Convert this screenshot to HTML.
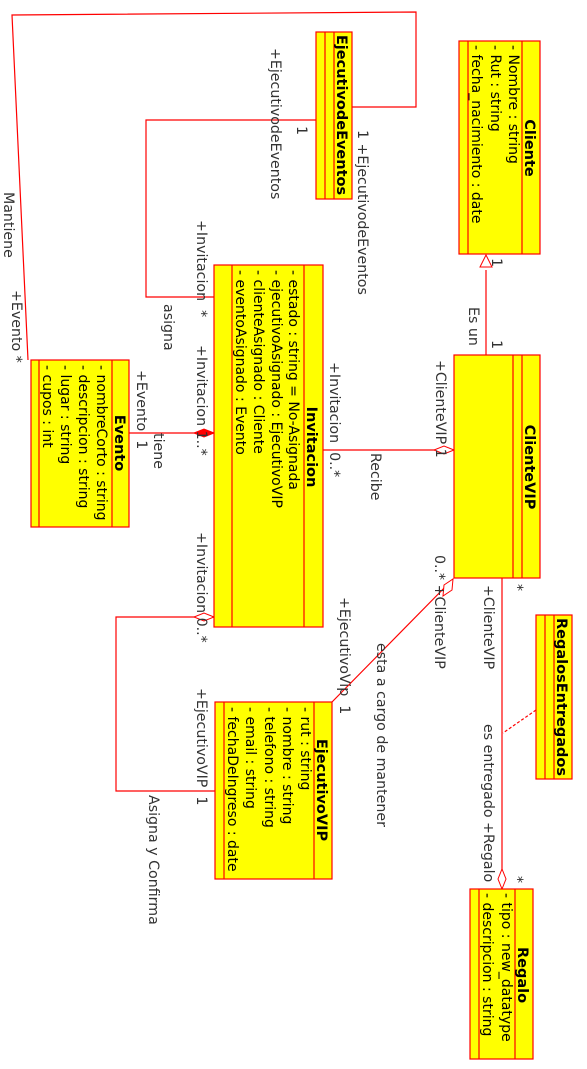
<!DOCTYPE html>
<html><head><meta charset="utf-8"><style>
html,body{margin:0;padding:0;background:#fff;}
svg{display:block;}
text{font-family:"DejaVu Sans","Liberation Sans",sans-serif;font-size:14.2px;fill:#333;}
.b{font-weight:bold;fill:#000;font-size:14.5px;}
.a{fill:#000;font-size:14px;}
</style></head><body>
<svg width="587" height="1069" viewBox="0 0 587 1069" xmlns="http://www.w3.org/2000/svg">
<g fill="none" stroke="#f00" stroke-width="1.2">
<polyline points="352,107 416,107 416,12 12,15 28,360"/>
<polyline points="316,120 146,120 146,297 214,297"/>
<line x1="129" y1="433" x2="214" y2="433"/>
<line x1="323" y1="450" x2="454" y2="450"/>
<line x1="486" y1="270" x2="486" y2="355"/>
<line x1="453" y1="579" x2="332" y2="702"/>
<polyline points="214,617 116,617 116,791 215,791"/>
<line x1="502" y1="578" x2="502" y2="889"/>
<line x1="536" y1="710" x2="503" y2="733" stroke-dasharray="3,2"/>
</g>
<polygon points="486,255 480,267 492,267" fill="#fff" stroke="#f00"/>
<polygon points="214,433 204,429 194,433 204,437" fill="#f00" stroke="#f00"/>
<polygon points="454,450 444,446 434,450 444,454" fill="#fff" stroke="#f00"/>
<polygon points="214,617 204,613 194,617 204,621" fill="#fff" stroke="#f00"/>
<polygon points="453,579 452,590 443,596 444,585" fill="#fff" stroke="#f00"/>
<polygon points="502,889 498,879 502,869 506,879" fill="#fff" stroke="#f00"/>
<g fill="#ffff00" stroke="#f00" stroke-width="1.2">
<rect x="316" y="32" width="36" height="167"/><line x1="325" y1="32" x2="325" y2="199"/><line x1="334" y1="32" x2="334" y2="199"/>
<rect x="459" y="41" width="81" height="213"/><line x1="468" y1="41" x2="468" y2="254"/><line x1="522" y1="41" x2="522" y2="254"/>
<rect x="214" y="265" width="109" height="362"/><line x1="232" y1="265" x2="232" y2="627"/><line x1="304" y1="265" x2="304" y2="627"/>
<rect x="454" y="355" width="86" height="223"/><line x1="513" y1="355" x2="513" y2="578"/><line x1="522" y1="355" x2="522" y2="578"/>
<rect x="31" y="360" width="98" height="167"/><line x1="39" y1="360" x2="39" y2="527"/><line x1="112" y1="360" x2="112" y2="527"/>
<rect x="215" y="702" width="117" height="177"/><line x1="224" y1="702" x2="224" y2="879"/><line x1="314" y1="702" x2="314" y2="879"/>
<rect x="536" y="615" width="36" height="164"/><line x1="545" y1="615" x2="545" y2="779"/><line x1="554" y1="615" x2="554" y2="779"/>
<rect x="470" y="889" width="63" height="170"/><line x1="479" y1="889" x2="479" y2="1059"/><line x1="515" y1="889" x2="515" y2="1059"/>
</g>
<text class="b" text-anchor="middle" transform="translate(337,115) rotate(90)">EjecutivodeEventos</text>
<text class="b" text-anchor="middle" transform="translate(525,148) rotate(90)">Cliente</text>
<text class="b" text-anchor="middle" transform="translate(307,447) rotate(90)">Invitacion</text>
<text class="b" text-anchor="middle" transform="translate(525,467) rotate(90)">ClienteVIP</text>
<text class="b" text-anchor="middle" transform="translate(115,443) rotate(90)">Evento</text>
<text class="b" text-anchor="middle" transform="translate(317,790) rotate(90)">EjecutivoVIP</text>
<text class="b" text-anchor="middle" transform="translate(557,697) rotate(90)">RegalosEntregados</text>
<text class="b" text-anchor="middle" transform="translate(518,975) rotate(90)">Regalo</text>
<text class="a" transform="translate(509,45) rotate(90)">- Nombre : string</text>
<text class="a" transform="translate(491,45) rotate(90)">- Rut : string</text>
<text class="a" transform="translate(472,45) rotate(90)">- fecha_nacimiento : date</text>
<text class="a" transform="translate(289,270) rotate(90)">- estado : string = No-Asignada</text>
<text class="a" transform="translate(272,270) rotate(90)">- ejecutivoAsignado : EjecutivoVIP</text>
<text class="a" transform="translate(254,270) rotate(90)">- clienteAsignado : Cliente</text>
<text class="a" transform="translate(236,270) rotate(90)">- eventoAsignado : Evento</text>
<text class="a" transform="translate(97,365) rotate(90)">- nombreCorto : string</text>
<text class="a" transform="translate(79,365) rotate(90)">- descripcion : string</text>
<text class="a" transform="translate(61,365) rotate(90)">- lugar : string</text>
<text class="a" transform="translate(43,365) rotate(90)">- cupos : int</text>
<text class="a" transform="translate(301,707) rotate(90)">- rut : string</text>
<text class="a" transform="translate(283,707) rotate(90)">- nombre : string</text>
<text class="a" transform="translate(265,707) rotate(90)">- telefono : string</text>
<text class="a" transform="translate(246,707) rotate(90)">- email : string</text>
<text class="a" transform="translate(228,707) rotate(90)">- fechaDeIngreso : date</text>
<text class="a" transform="translate(502,893) rotate(90)">- tipo : new_datatype</text>
<text class="a" transform="translate(483,893) rotate(90)">- descripcion : string</text>
<text transform="translate(271,48) rotate(90)">+EjecutivodeEventos</text>
<text transform="translate(297,126) rotate(90)">1</text>
<text transform="translate(358,130) rotate(90)">1 +EjecutivodeEventos</text>
<text transform="translate(4,192) rotate(90)">Mantiene</text>
<text transform="translate(12,290) rotate(90)">+Evento *</text>
<text transform="translate(197,220) rotate(90)">+Invitacion&#160;&#160;*</text>
<text transform="translate(164,304) rotate(90)">asigna</text>
<text transform="translate(197,345) rotate(90)">+Invitacion 1..*</text>
<text transform="translate(137,370) rotate(90)">+Evento&#160;&#160;1</text>
<text transform="translate(154,433) rotate(90)">tiene</text>
<text transform="translate(330,362) rotate(90)">+Invitacion&#160;&#160;0..*</text>
<text transform="translate(371,453) rotate(90)">Recibe</text>
<text transform="translate(436,360) rotate(90)">+ClienteVIP 1</text>
<text transform="translate(469,307) rotate(90)">Es un</text>
<text transform="translate(492,258) rotate(90)">1</text>
<text transform="translate(492,340) rotate(90)">1</text>
<text transform="translate(435,555) rotate(90)">0..* +ClienteVIP</text>
<text transform="translate(513,584) rotate(90)">*</text>
<text transform="translate(484,585) rotate(90)">+ClienteVIP</text>
<text transform="translate(340,597) rotate(90)">+EjecutivoVip&#160;&#160;1</text>
<text transform="translate(377,643) rotate(90)">esta a cargo de mantener</text>
<text transform="translate(484,724) rotate(90)">es entregado +Regalo</text>
<text transform="translate(513,876) rotate(90)">*</text>
<text transform="translate(197,532) rotate(90)">+Invitacion 0..*</text>
<text transform="translate(197,688) rotate(90)">+EjecutivoVIP&#160;&#160;1</text>
<text transform="translate(149,795) rotate(90)">Asigna y Confirma</text>
</svg>
</body></html>
